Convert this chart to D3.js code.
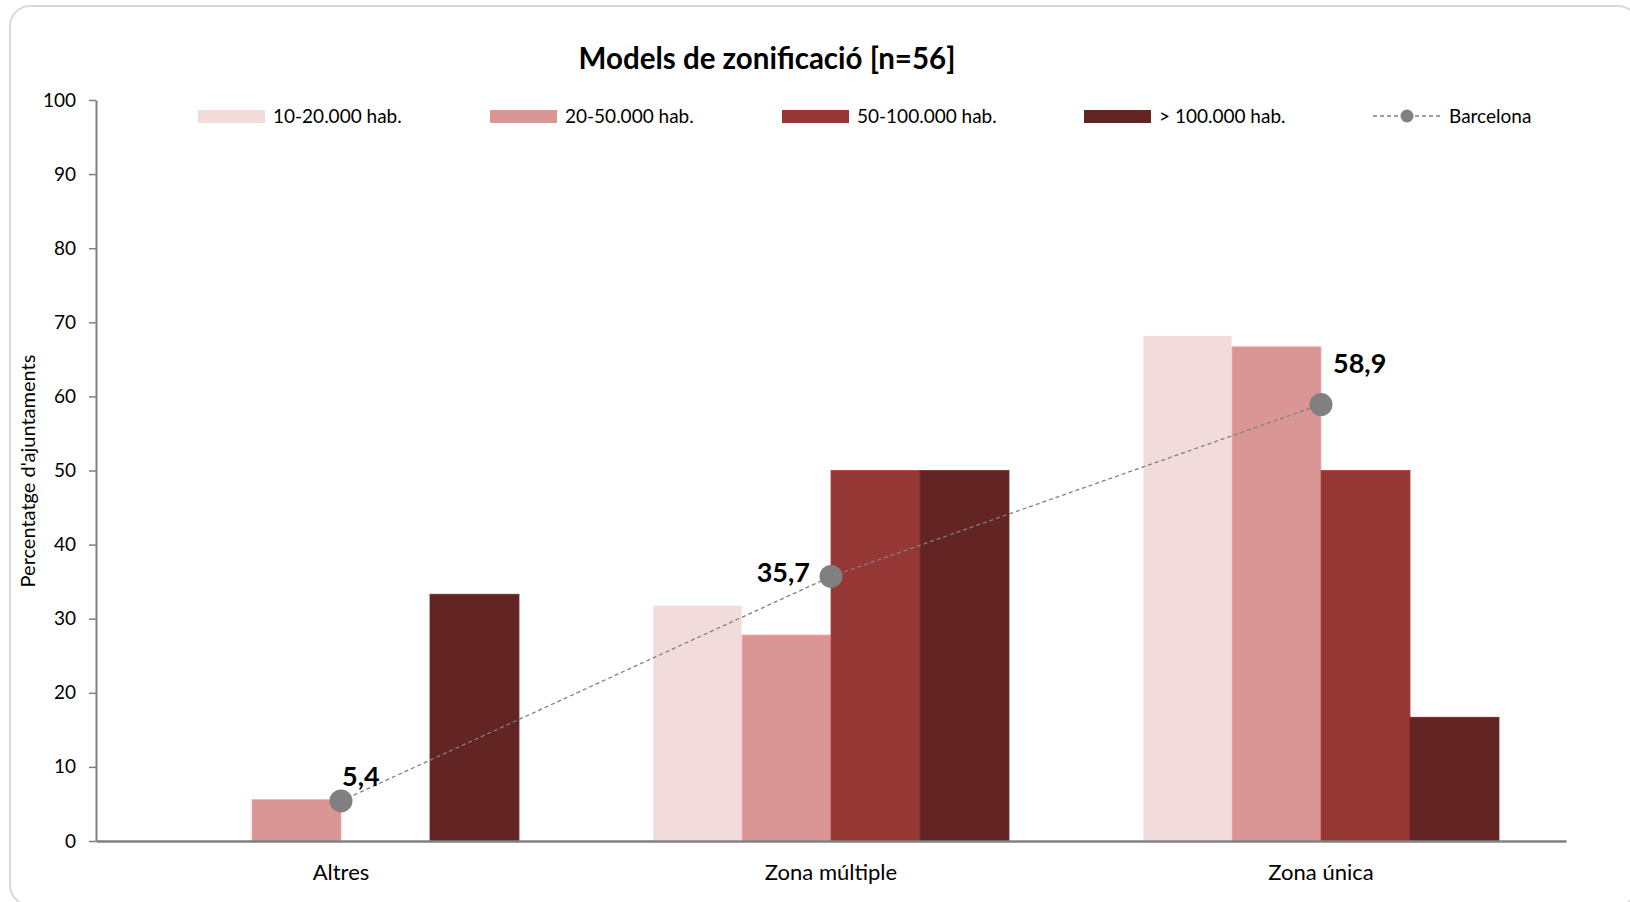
<!DOCTYPE html>
<html><head><meta charset="utf-8">
<script src="https://cdn.jsdelivr.net/npm/d3@7"></script>
<style>
body{margin:0;background:#fff;}
svg{display:block;font-family:Lato,'Open Sans',sans-serif;}
</style>
</head><body>
<svg id="c" width="1630" height="902"></svg>
<script>
// ---- data ----
const categories = ["Altres", "Zona múltiple", "Zona única"];
const seriesNames = ["10-20.000 hab.", "20-50.000 hab.", "50-100.000 hab.", "> 100.000 hab."];
const s10_20  = [0, 31.8, 68.2];
const s20_50  = [5.6, 27.8, 66.7];
const s50_100 = [0, 50, 50];
const s100    = [33.3, 50, 16.7];
const barcelona = [5.4, 35.7, 58.9];
const barcelonaLabels = ["5,4", "35,7", "58,9"];
const lineName = "Barcelona";
const yTicks = [0, 10, 20, 30, 40, 50, 60, 70, 80, 90, 100];
const titleText = "Models de zonificació [n=56]";
const yTitle = "Percentatge d'ajuntaments";

// ---- styling / layout ----
const colors = ["#f2dcdb", "#d99694", "#953735", "#632523"];
const gray = "#808080";
const mLeft = 96, mRight = 1566, mTop = 100, mBottom = 841;
const labelOffsets = [{dx: 1, dy: -15, a: "start"}, {dx: -21, dy: 6, a: "end"}, {dx: 12, dy: -32, a: "start"}];
const legendX = [198, 490, 782, 1084, 1373];

const seriesValues = [s10_20, s20_50, s50_100, s100];
const svg = d3.select("#c");

svg.append("rect").attr("x", 10).attr("y", 6).attr("width", 1628).attr("height", 899)
  .attr("rx", 20).attr("fill", "#fff").attr("stroke", "#d9d9d9").attr("stroke-width", 2);

const x0 = d3.scaleBand().domain(categories).range([mLeft, mRight])
  .paddingInner(0.2735).paddingOuter(0.13673);
const x1 = d3.scaleBand().domain(seriesNames).range([0, x0.bandwidth()]);
const y = d3.scaleLinear().domain([0, 100]).range([mBottom, mTop]);

// bars
const groups = svg.append("g").selectAll("g").data(categories).join("g")
  .attr("transform", d => `translate(${x0(d)},0)`);
groups.selectAll("rect")
  .data((c, ci) => seriesNames.map((s, si) => ({s, si, v: seriesValues[si][ci]})).filter(d => d.v > 0))
  .join("rect")
  .attr("x", d => x1(d.s))
  .attr("y", d => y(d.v))
  .attr("width", x1.bandwidth())
  .attr("height", d => y(0) - y(d.v))
  .attr("fill", d => colors[d.si])
  .attr("stroke", d => d3.color(colors[d.si]).brighter(0.4))
  .attr("stroke-width", 0.8);

// y axis
const yAxis = svg.append("g").attr("transform", `translate(${mLeft},0)`)
  .call(d3.axisLeft(y).tickValues(yTicks).tickSize(7).tickPadding(13).tickSizeOuter(0));
yAxis.select(".domain").attr("stroke", gray).attr("stroke-width", 2);
yAxis.selectAll(".tick line").attr("stroke", gray).attr("stroke-width", 1.5);
yAxis.selectAll("text").attr("font-size", 19).attr("fill", "#000").attr("font-family", "Lato");

// x axis
const xAxis = svg.append("g").attr("transform", `translate(0,${mBottom})`)
  .call(d3.axisBottom(x0).tickSize(0).tickPadding(23).tickSizeOuter(0));
xAxis.select(".domain").attr("stroke", gray).attr("stroke-width", 2.5);
xAxis.selectAll("text").attr("font-size", 22).attr("fill", "#000").attr("font-family", "Lato");

// barcelona line
const px = i => x0(categories[i]) + x0.bandwidth() / 2;
const line = d3.line().x((d, i) => px(i)).y(d => y(d));
svg.append("path").datum(barcelona).attr("d", line)
  .attr("fill", "none").attr("stroke", gray).attr("stroke-width", 1.3).attr("stroke-dasharray", "4,3");
svg.append("g").selectAll("circle").data(barcelona).join("circle")
  .attr("cx", (d, i) => px(i)).attr("cy", d => y(d)).attr("r", 11.5).attr("fill", gray);
svg.append("g").selectAll("text").data(barcelona).join("text")
  .attr("x", (d, i) => px(i) + labelOffsets[i].dx)
  .attr("y", (d, i) => y(d) + labelOffsets[i].dy)
  .attr("text-anchor", (d, i) => labelOffsets[i].a)
  .attr("font-size", 27).attr("font-weight", "bold").attr("fill", "#000")
  .text((d, i) => barcelonaLabels[i]);

// title
svg.append("text").attr("x", 767).attr("y", 69).attr("text-anchor", "middle")
  .attr("font-size", 29.5).attr("font-weight", "bold").attr("fill", "#000").text(titleText);

// y title
svg.append("text").attr("transform", "rotate(-90)")
  .attr("x", -471).attr("y", 28).attr("dy", "0.35em").attr("text-anchor", "middle")
  .attr("font-size", 20).attr("fill", "#000").text(yTitle);

// legend
const lg = svg.append("g");
seriesNames.forEach((s, i) => {
  lg.append("rect").attr("x", legendX[i]).attr("y", 110).attr("width", 67).attr("height", 13).attr("fill", colors[i]);
  lg.append("text").attr("x", legendX[i] + 75).attr("y", 116).attr("dy", "0.35em")
    .attr("font-size", 19).attr("fill", "#000").text(s);
});
const bx = legendX[4];
lg.append("line").attr("x1", bx).attr("x2", bx + 69).attr("y1", 116).attr("y2", 116)
  .attr("stroke", gray).attr("stroke-width", 1.3).attr("stroke-dasharray", "4,3");
lg.append("circle").attr("cx", bx + 34).attr("cy", 116).attr("r", 6.5).attr("fill", gray);
lg.append("text").attr("x", bx + 76).attr("y", 116).attr("dy", "0.35em")
  .attr("font-size", 19).attr("fill", "#000").text(lineName);
</script>
</body></html>
